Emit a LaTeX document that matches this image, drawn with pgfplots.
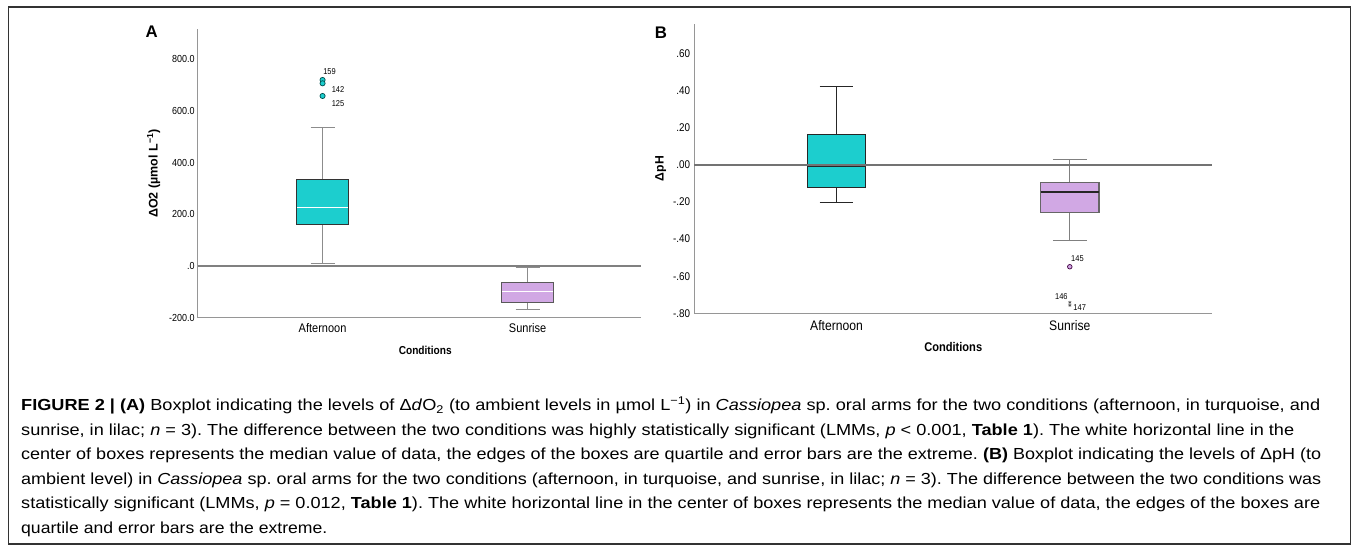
\documentclass[border=0pt]{standalone}
\usepackage{pgfplots}
\pgfplotsset{compat=1.18}
\usepgfplotslibrary{statistics}
\usepackage{graphicx}
\usepackage{fontspec}
\setmainfont{Liberation Sans}
\newfontfamily\spss{Liberation Sans}[FakeStretch=0.88]
\definecolor{turq}{RGB}{28,206,206}
\definecolor{lilac}{RGB}{209,168,228}
\definecolor{axgray}{RGB}{150,150,150}
\newcommand\capfont{\fontsize{16}{20}\selectfont\frenchspacing}
\newcommand\capline[3]{\node[anchor=base west, inner sep=0pt] at (21pt,#1) {\resizebox{#2}{\height}{\capfont #3}};}
\begin{document}
\frenchspacing
\begin{tikzpicture}
\path[use as bounding box] (0,0) rectangle (1357pt,550pt);
\draw[line width=1.3pt, black!80] (8.5pt,6pt) rectangle (1350.5pt,543pt);
% panel letters
\node[font=\bfseries\fontsize{16.8}{18}\selectfont, inner sep=0pt] at (151.6pt,517.8pt) {A};
\node[font=\bfseries\fontsize{16.8}{18}\selectfont, inner sep=0pt] at (661pt,517.5pt) {B};

% ---------------- Panel A
\begin{axis}[
  at={(197.7pt,232.3pt)}, anchor=south west,
  scale only axis, width=443.3pt, height=288.4pt,
  xmin=-0.609, xmax=1.553, ymin=-200, ymax=916,
  axis x line*=bottom, axis y line*=left,
  axis line style={draw=axgray, line width=1pt, -},
  xtick={0,1}, xticklabels={Afternoon,Sunrise},
  ytick={-200,0,200,400,600,800},
  yticklabels={-200.0,.0,200.0,400.0,600.0,800.0},
  major tick length=0pt, tick style={draw=none},
  yticklabel style={font=\spss\fontsize{10.2}{12}\selectfont, anchor=east, inner sep=0pt, xshift=-3pt},
  xticklabel style={font=\spss\fontsize{12.5}{14}\selectfont, anchor=north, inner sep=0pt, yshift=-6pt},
  xlabel={Conditions},
  xlabel style={font=\spss\bfseries\fontsize{11.5}{13}\selectfont, at={(axis description cs:0.5132,-0.1144)}, anchor=center},
  ylabel={ΔO2 (µmol L\textsuperscript{−1})},
  ylabel style={font=\bfseries\fontsize{12.5}{14}\selectfont, at={(axis description cs:-0.0993,0.5)}, anchor=center},
  clip=false,
  boxplot/draw direction=y,
]
\addplot[draw=black!45, line width=1pt,
  boxplot prepared={draw position=0, lower whisker=10, lower quartile=160,
    median=226, upper quartile=335, upper whisker=536,
    box extend=0.25, whisker extend=0.117,
    every box/.style={draw=black!80, fill=turq, line width=1pt},
    every median/.style={draw=white, line width=1pt}}] coordinates {};
\addplot[draw=black!45, line width=1pt,
  boxplot prepared={draw position=1, lower whisker=-168, lower quartile=-142,
    median=-99, upper quartile=-62, upper whisker=-4,
    box extend=0.25, whisker extend=0.117,
    every box/.style={draw=black!65, fill=lilac, line width=1pt},
    every median/.style={draw=white, line width=1pt}}] coordinates {};
\addplot[draw=black!50, line width=1.3pt] coordinates {(-0.609,0) (1.553,0)};
\addplot[only marks, mark=*, mark size=2.6pt, mark options={fill=turq, draw=teal!60!black, line width=0.7pt}]
  coordinates {(0,720) (0,707) (0,658)};
\node[font=\spss\fontsize{8.5}{9}\selectfont, anchor=west, inner sep=0pt, xshift=0.5pt] at (axis cs:0,751) {159};
\node[font=\spss\fontsize{8.5}{9}\selectfont, anchor=west, inner sep=0pt, xshift=9pt] at (axis cs:0,681) {142};
\node[font=\spss\fontsize{8.5}{9}\selectfont, anchor=west, inner sep=0pt, xshift=9pt] at (axis cs:0,629.5) {125};
\end{axis}

% ---------------- Panel B
\begin{axis}[
  at={(694pt,236.7pt)}, anchor=south west,
  scale only axis, width=517.6pt, height=289.3pt,
  xmin=-0.611, xmax=1.608, ymin=-0.8, ymax=0.76,
  axis x line*=bottom, axis y line*=left,
  axis line style={draw=axgray, line width=1pt, -},
  xtick={0,1}, xticklabels={Afternoon,Sunrise},
  ytick={-0.8,-0.6,-0.4,-0.2,0,0.2,0.4,0.6},
  yticklabels={-.80,-.60,-.40,-.20,.00,.20,.40,.60},
  major tick length=0pt, tick style={draw=none},
  yticklabel style={font=\spss\fontsize{11.2}{13}\selectfont, anchor=east, inner sep=0pt, xshift=-3.7pt},
  xticklabel style={font=\spss\fontsize{13.8}{15}\selectfont, anchor=north, inner sep=0pt, yshift=-7pt},
  xlabel={Conditions},
  xlabel style={font=\spss\bfseries\fontsize{12.6}{14}\selectfont, at={(axis description cs:0.5008,-0.1165)}, anchor=center},
  ylabel={ΔpH},
  ylabel style={font=\bfseries\fontsize{12.2}{14}\selectfont, at={(axis description cs:-0.0645,0.5)}, anchor=center},
  clip=false,
  boxplot/draw direction=y,
]
\addplot[draw=black!85, line width=1.1pt,
  boxplot prepared={draw position=0, lower whisker=-0.201, lower quartile=-0.12,
    median=-0.009, upper quartile=0.166, upper whisker=0.425,
    box extend=0.25, whisker extend=0.145,
    every box/.style={draw=black!85, fill=turq, line width=1.1pt},
    every median/.style={draw=black!85, line width=1.1pt}}] coordinates {};
\addplot[draw=black!50, line width=1.1pt,
  boxplot prepared={draw position=1, lower whisker=-0.406, lower quartile=-0.257,
    median=-0.146, upper quartile=-0.097, upper whisker=0.031,
    box extend=0.25, whisker extend=0.145,
    every box/.style={draw=black!60, fill=lilac, line width=1.1pt},
    every median/.style={draw=black!85, line width=1.1pt}}] coordinates {};
\addplot[draw=black!55, line width=2.3pt] coordinates {(-0.611,0) (1.608,0)};
\addplot[only marks, mark=*, mark size=2.3pt, mark options={fill=lilac, draw=violet!50!black, line width=0.7pt}]
  coordinates {(1,-0.549)};
\addplot[only marks, mark=asterisk, mark size=1.6pt, mark options={draw=black!70, line width=0.5pt}]
  coordinates {(1,-0.741) (1,-0.757)};
\node[font=\spss\fontsize{8.5}{9}\selectfont, anchor=west, inner sep=0pt, xshift=1.2pt] at (axis cs:1,-0.504) {145};
\node[font=\spss\fontsize{8.5}{9}\selectfont, anchor=east, inner sep=0pt, xshift=-2pt] at (axis cs:1,-0.711) {146};
\node[font=\spss\fontsize{8.5}{9}\selectfont, anchor=west, inner sep=0pt, xshift=3.5pt] at (axis cs:1,-0.770) {147};
\end{axis}

% ---------------- Caption
\capline{139.5pt}{1299pt}{\textbf{FIGURE 2 | (A)} Boxplot indicating the levels of Δ\textit{d}O\textsubscript{2} (to ambient levels in µmol L\textsuperscript{−1}) in \textit{Cassiopea} sp. oral arms for the two conditions (afternoon, in turquoise, and}
\capline{115pt}{1273pt}{sunrise, in lilac; \textit{n} = 3). The difference between the two conditions was highly statistically significant (LMMs, \textit{p} < 0.001, \textbf{Table 1}). The white horizontal line in the}
\capline{90.5pt}{1300pt}{center of boxes represents the median value of data, the edges of the boxes are quartile and error bars are the extreme. \textbf{(B)} Boxplot indicating the levels of ΔpH (to}
\capline{66pt}{1300pt}{ambient level) in \textit{Cassiopea} sp. oral arms for the two conditions (afternoon, in turquoise, and sunrise, in lilac; \textit{n} = 3). The difference between the two conditions was}
\capline{41.5pt}{1299pt}{statistically significant (LMMs, \textit{p} = 0.012, \textbf{Table 1}). The white horizontal line in the center of boxes represents the median value of data, the edges of the boxes are}
\node[anchor=base west, inner sep=0pt] at (21pt,17pt) {\scalebox{1.1}[1]{\capfont quartile and error bars are the extreme.}};
\end{tikzpicture}
\end{document}
